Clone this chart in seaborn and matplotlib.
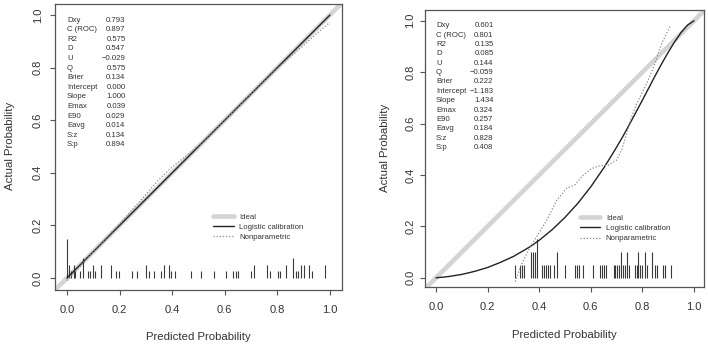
import numpy as np
import pandas as pd
import matplotlib
matplotlib.use("Agg")
import matplotlib.pyplot as plt
import seaborn as sns
from matplotlib.lines import Line2D

# ---------------- data ----------------
tick_values = [0.0, 0.2, 0.4, 0.6, 0.8, 1.0]
tick_labels = ["0.0", "0.2", "0.4", "0.6", "0.8", "1.0"]

stat_names = ["Dxy", "C (ROC)", "R2", "D", "U", "Q", "Brier", "Intercept",
              "Slope", "Emax", "E90", "Eavg", "S:z", "S:p"]
left_stat_vals = ["0.793", "0.897", "0.575", "0.547", "\u22120.029", "0.575", "0.134",
                  "0.000", "1.000", "0.039", "0.029", "0.014", "0.134", "0.894"]
right_stat_vals = ["0.601", "0.801", "0.135", "0.085", "0.144", "\u22120.059", "0.222",
                   "\u22121.183", "1.434", "0.324", "0.257", "0.184", "0.828", "0.408"]

legend_labels = ["Ideal", "Logistic calibration", "Nonparametric"]

# left panel
left_logistic_p = [0.0, 1.0]
left_logistic_a = [0.0, 1.0]
left_np_p = [0.0, 0.05, 0.1, 0.2, 0.3, 0.35, 0.4, 0.45, 0.5, 0.6, 0.7, 0.8, 0.9, 0.95, 1.0]
left_np_a = [-0.01, 0.045, 0.1, 0.205, 0.318, 0.375, 0.422, 0.462, 0.503, 0.6, 0.7, 0.797, 0.885, 0.93, 0.972]
left_rug_x = [0.0, 0.009, 0.016, 0.025, 0.032, 0.051, 0.059, 0.080, 0.086, 0.099, 0.108,
              0.129, 0.168, 0.187, 0.199, 0.249, 0.268, 0.300, 0.313, 0.330, 0.358, 0.368,
              0.389, 0.394, 0.409, 0.470, 0.511, 0.559, 0.603, 0.630, 0.641, 0.649, 0.699,
              0.710, 0.761, 0.772, 0.801, 0.809, 0.832, 0.861, 0.870, 0.880, 0.890, 0.900,
              0.922, 0.932, 0.982]
left_rug_h = [0.15, 0.05, 0.025, 0.05, 0.025, 0.025, 0.075, 0.025, 0.025, 0.05, 0.025,
              0.05, 0.05, 0.025, 0.025, 0.025, 0.025, 0.05, 0.025, 0.025, 0.025, 0.05,
              0.05, 0.025, 0.025, 0.025, 0.025, 0.025, 0.025, 0.025, 0.025, 0.025, 0.025,
              0.05, 0.05, 0.025, 0.025, 0.025, 0.05, 0.075, 0.025, 0.025, 0.05, 0.05,
              0.05, 0.025, 0.05]

# right panel
right_logistic_p = [0.0, 0.025, 0.05, 0.1, 0.15, 0.2, 0.25, 0.3, 0.35, 0.375, 0.4, 0.45, 0.5,
                    0.55, 0.6, 0.65, 0.675, 0.7, 0.725, 0.75, 0.775, 0.8, 0.825, 0.85,
                    0.875, 0.9, 0.925, 0.95, 0.975, 1.0]
right_logistic_a = [0.0, 0.002, 0.005, 0.013, 0.025, 0.040, 0.060, 0.083, 0.112, 0.128, 0.146,
                    0.187, 0.235, 0.290, 0.354, 0.427, 0.467, 0.508, 0.551, 0.597, 0.644,
                    0.691, 0.739, 0.787, 0.833, 0.877, 0.918, 0.954, 0.983, 1.0]
right_np_p = [0.307, 0.33, 0.36, 0.39, 0.43, 0.468, 0.506, 0.539, 0.571, 0.603, 0.636,
              0.668, 0.70, 0.72, 0.739, 0.758, 0.778, 0.817, 0.849, 0.875, 0.894, 0.91]
right_np_a = [-0.015, 0.05, 0.11, 0.16, 0.225, 0.302, 0.348, 0.362, 0.40, 0.425, 0.436,
              0.438, 0.458, 0.497, 0.562, 0.625, 0.678, 0.756, 0.834, 0.912, 0.951, 0.983]
right_rug_x = [0.307, 0.327, 0.333, 0.340, 0.367, 0.375, 0.382, 0.390, 0.411, 0.419, 0.426,
               0.433, 0.441, 0.459, 0.468, 0.499, 0.537, 0.545, 0.554, 0.568, 0.609, 0.636,
               0.643, 0.650, 0.658, 0.689, 0.695, 0.703, 0.711, 0.718, 0.725, 0.733, 0.740,
               0.748, 0.770, 0.778, 0.784, 0.792, 0.800, 0.810, 0.818, 0.839, 0.848, 0.855,
               0.880, 0.888, 0.910]
right_rug_h = [0.05, 0.05, 0.05, 0.05, 0.1, 0.1, 0.1, 0.15, 0.05, 0.05, 0.05,
               0.05, 0.05, 0.05, 0.1, 0.05, 0.05, 0.05, 0.05, 0.05, 0.05, 0.05,
               0.05, 0.05, 0.05, 0.05, 0.05, 0.05, 0.05, 0.1, 0.05, 0.05, 0.1,
               0.05, 0.05, 0.05, 0.1, 0.05, 0.05, 0.1, 0.05, 0.1, 0.05, 0.05,
               0.05, 0.05, 0.05]

# ---------------- style ----------------
sns.set_theme(style="ticks")
plt.rcParams['font.family'] = ['Liberation Sans', 'DejaVu Sans']

IDEAL_C = "#d4d4d4"
LINE_C = "#222222"
NP_C = "#8a8a8a"
FRAME_C = "#555555"
TEXT_C = "#333333"

fig = plt.figure(figsize=(7.08, 3.48), dpi=100)
ax1 = fig.add_axes([55/708, 1-290/348, 287/708, 286/348])
ax2 = fig.add_axes([425/708, 1-287/348, 279/708, 277/348])


def draw_panel(ax, lp, la, nxp, nxa, rx, rh, vals, xlim, ylim, ypad, xlab_y, ylab_x):
    ax.set_xlim(*xlim)
    ax.set_ylim(*ylim)
    ax.axline((0, 0), (1, 1), color=IDEAL_C, lw=3.3, zorder=1, solid_capstyle='butt')
    ax.vlines(rx, 0, rh, color="#3a3a3a", lw=0.8, zorder=2)
    sns.lineplot(x=lp, y=la, ax=ax, color=LINE_C, lw=1.0, sort=False,
                 estimator=None, zorder=3)
    sns.lineplot(x=nxp, y=nxa, ax=ax, color=NP_C, lw=0.9, sort=False,
                 estimator=None, zorder=3, linestyle=(0, (1, 1.5)))

    # statistics block
    y0, step = 0.981, 0.0365
    for i, (nm, v) in enumerate(zip(stat_names, vals)):
        y = y0 - i * step
        ax.text(0.0, y, nm, ha='left', va='center', fontsize=5.6, color=TEXT_C)
        ax.text(0.223, y, v, ha='right', va='center', fontsize=5.6, color=TEXT_C)

    handles = [Line2D([], [], color=IDEAL_C, lw=3.3),
               Line2D([], [], color=LINE_C, lw=1.0),
               Line2D([], [], color=NP_C, lw=0.9, linestyle=(0, (1, 1.5)))]
    ax.legend(handles, legend_labels, loc='upper left', bbox_to_anchor=(0.557, 0.246),
              bbox_transform=ax.transData, frameon=False, fontsize=5.6,
              handlelength=2.6, handletextpad=0.75, labelspacing=0.35,
              borderpad=0, borderaxespad=0, labelcolor=TEXT_C)

    ax.set_xticks(tick_values)
    ax.set_xticklabels(tick_labels)
    ax.set_yticks(tick_values)
    ax.set_yticklabels(tick_labels, rotation=90, va='center', ha='right')
    ax.tick_params(axis='both', direction='out', length=3.8, width=0.8, color=FRAME_C,
                   labelsize=8, labelcolor=TEXT_C, bottom=True, left=True)
    ax.tick_params(axis='x', pad=6.8)
    ax.tick_params(axis='y', pad=ypad)
    for sp in ax.spines.values():
        sp.set_visible(True)
        sp.set_color(FRAME_C)
        sp.set_linewidth(0.9)
    ax.set_xlabel("Predicted Probability", fontsize=8.2, color=TEXT_C, va='center')
    ax.set_ylabel("Actual Probability", fontsize=8.2, color=TEXT_C, va='center',
                  ha='center')
    ax.xaxis.set_label_coords(0.5, xlab_y)
    ax.yaxis.set_label_coords(ylab_x, 0.503)


draw_panel(ax1, left_logistic_p, left_logistic_a, left_np_p, left_np_a,
           left_rug_x, left_rug_h, left_stat_vals,
           (-0.0456, 1.046), (-0.0456, 1.042), 5.0, -0.164, -0.157)
draw_panel(ax2, right_logistic_p, right_logistic_a, right_np_p, right_np_a,
           right_rug_x, right_rug_h, right_stat_vals,
           (-0.043, 1.039), (-0.036, 1.042), 3.0, -0.173, -0.143)

fig.savefig("out.png", dpi=100, facecolor="white")
